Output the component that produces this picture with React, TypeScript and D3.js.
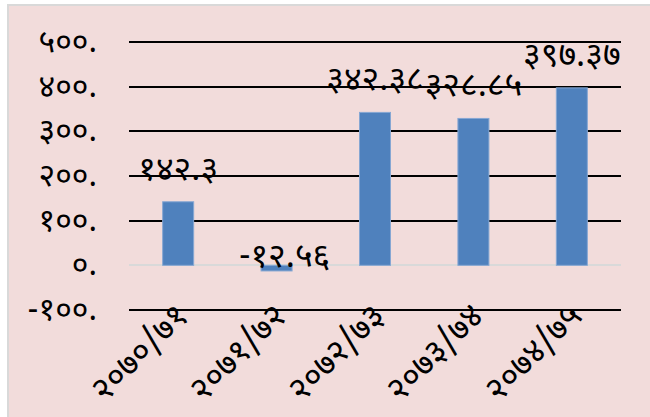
import React, { useEffect, useRef } from 'react';
import * as d3 from 'd3';

const categories = ['२०७०/७१', '२०७१/७२', '२०७२/७३', '२०७३/७४', '२०७४/७५'];
const values = [142.3, -12.56, 342.38, 328.85, 397.37];
const valueLabels = ['१४२.३', '-१२.५६', '३४२.३८', '३२८.८५', '३९७.३७'];
const yTicks = [-100, 0, 100, 200, 300, 400, 500];
const yTickLabels = ['-१००.', '०.', '१००.', '२००.', '३००.', '४००.', '५००.'];

const FONT = '"Noto Sans Devanagari", "Noto Sans", sans-serif';

export default function App() {
  const svgRef = useRef<SVGSVGElement>(null);

  useEffect(() => {
    if (!svgRef.current) return;
    const W = 650, H = 417;
    const svg = d3.select(svgRef.current);
    svg.selectAll('*').remove();

    // chart area background + top border
    svg.append('rect').attr('x', 8).attr('y', 5).attr('width', W + 20).attr('height', H + 20)
      .attr('fill', '#F2DCDB').attr('stroke', '#D9D9D9').attr('stroke-width', 2);

    const x = d3.scaleBand().domain(categories).range([129, 621]).paddingInner(0.685).paddingOuter(0.342);
    const y = d3.scaleLinear().domain([-100, 500]).range([310, 42]);

    // gridlines
    svg.append('g').selectAll('line').data(yTicks).join('line')
      .attr('x1', 129).attr('x2', 621)
      .attr('y1', d => Math.round(y(d))).attr('y2', d => Math.round(y(d)))
      .attr('stroke', d => d === 0 ? '#D9D9D9' : '#000')
      .attr('stroke-width', 2);

    // y tick labels
    svg.append('g').selectAll('text').data(yTicks).join('text')
      .attr('x', 97).attr('y', d => y(d) + 10)
      .attr('text-anchor', 'end')
      .attr('font-family', FONT).attr('font-size', 32).attr('fill', '#000')
      .text((d, i) => yTickLabels[i]);

    // bars
    svg.append('g').selectAll('rect').data(values).join('rect')
      .attr('x', (d, i) => x(categories[i])!)
      .attr('y', d => y(Math.max(d, 0)))
      .attr('width', x.bandwidth())
      .attr('height', d => Math.abs(y(d) - y(0)))
      .attr('fill', '#4F81BD')
      .attr('stroke', '#86A7D3').attr('stroke-width', 1);

    // data labels
    svg.append('g').selectAll('text').data(values).join('text')
      .attr('x', (d, i) => x(categories[i])! + x.bandwidth() / 2 + (d < 0 ? 8 : 0))
      .attr('y', d => d < 0 ? y(0) + 2 : y(d) - 22)
      .attr('text-anchor', 'middle')
      .attr('font-family', FONT).attr('font-size', 34).attr('fill', '#000')
      .text((d, i) => valueLabels[i]);

    // x labels
    svg.append('g').selectAll('text').data(categories).join('text')
      .attr('transform', d => `translate(${x(d)! + x.bandwidth() / 2 + 12},${318}) rotate(-45)`)
      .attr('text-anchor', 'end')
      .attr('font-family', FONT).attr('font-size', 34).attr('fill', '#000')
      .text(d => d);
  }, []);

  return <svg ref={svgRef} width={650} height={417} style={{ position: 'absolute', left: 0, top: 0 }} />;
}
